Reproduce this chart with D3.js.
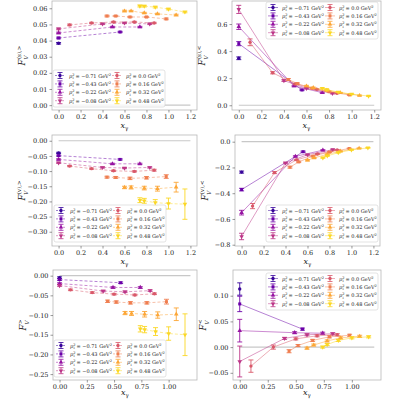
<!DOCTYPE html>
<html>
<head>
<meta charset="utf-8">
<script src="https://cdn.jsdelivr.net/npm/d3@7"></script>
<style>
  body { margin: 0; background: #fff; }
  text { font-family: "DejaVu Serif", "Liberation Serif", serif; }
</style>
</head>
<body>
<div id="chart"></div>
<script>
// series labels (p_t^2 in GeV^2) and x_gamma positions of each series
const ptLabels = ["\u22120.71", "\u22120.43", "\u22120.22", "\u22120.08", "0.0", "0.16", "0.32", "0.48"]
const xGamma = [
  [0],
  [0, 0.56],
  [0, 0.49, 0.74],
  [0, 0.4, 0.6, 0.83],
  [0.1, 0.3, 0.5, 0.69, 0.87],
  [0.44, 0.52, 0.65, 0.8, 0.98],
  [0.6, 0.66, 0.78, 0.9, 1.07],
  [0.74, 0.78, 0.88, 1.0, 1.15]
]

// top-left F^(s),>
const fsGt = [
  [0.0383], [0.0416, 0.0453], [0.0447, 0.0484, 0.0484],
  [0.0472, 0.0503, 0.0509, 0.0503], [0.0497, 0.0509, 0.0515, 0.0515, 0.0509],
  [0.0552, 0.0552, 0.0546, 0.0546, 0.0534], [0.0583, 0.0583, 0.0571, 0.0565, 0.0558],
  [0.0614, 0.0613, 0.0607, 0.0595, 0.0577]
]
const fsGtErr = [
  [0.0005], [0.0005, 0.0004], [0.0005, 0.0004, 0.0004],
  [0.0005, 0.0004, 0.0004, 0.0004], [0.0005, 0.0004, 0.0004, 0.0004, 0.0004],
  [0.0005, 0.0004, 0.0004, 0.0004, 0.0005], [0.0005, 0.0004, 0.0004, 0.0004, 0.0005],
  [0.0006, 0.0005, 0.0005, 0.0005, 0.0005]
]
// top-right F^(s),<
const fsLt = [
  [0.347], [0.455, 0.113], [0.58, 0.142, 0.093],
  [0.708, 0.182, 0.125, 0.088], [0.465, 0.24, 0.157, 0.118, 0.088],
  [0.19, 0.16, 0.125, 0.1, 0.076], [0.142, 0.13, 0.11, 0.092, 0.072],
  [0.125, 0.115, 0.098, 0.082, 0.068]
]
const fsLtErr = [
  [0.01], [0.015, 0.005], [0.02, 0.005, 0.004],
  [0.03, 0.006, 0.004, 0.004], [0.025, 0.008, 0.005, 0.004, 0.003],
  [0.007, 0.005, 0.004, 0.004, 0.003], [0.005, 0.004, 0.004, 0.003, 0.003],
  [0.004, 0.004, 0.003, 0.003, 0.003]
]
// middle-left F^(v),>
const fvGt = [
  [-0.040], [-0.049, -0.0615], [-0.0615, -0.076, -0.076],
  [-0.0725, -0.088, -0.090, -0.088], [-0.0835, -0.092, -0.099, -0.101, -0.097],
  [-0.120, -0.121, -0.124, -0.122, -0.118], [-0.154, -0.154, -0.156, -0.158, -0.153],
  [-0.196, -0.198, -0.204, -0.207, -0.209]
]
const fvGtErr = [
  [0.002], [0.002, 0.002], [0.002, 0.002, 0.002],
  [0.002, 0.002, 0.002, 0.002], [0.002, 0.002, 0.002, 0.002, 0.003],
  [0.003, 0.003, 0.004, 0.004, 0.006], [0.004, 0.005, 0.006, 0.008, 0.016],
  [0.008, 0.008, 0.01, 0.018, 0.05]
]
// middle-right F^(v),<
const fvLt = [
  [-0.236], [-0.372, -0.078], [-0.551, -0.114, -0.066],
  [-0.736, -0.165, -0.101, -0.062], [-0.5, -0.24, -0.141, -0.096, -0.064],
  [-0.198, -0.157, -0.112, -0.08, -0.053], [-0.144, -0.126, -0.098, -0.074, -0.051],
  [-0.125, -0.11, -0.085, -0.064, -0.048]
]
const fvLtErr = [
  [0.008], [0.01, 0.005], [0.018, 0.005, 0.004],
  [0.025, 0.006, 0.004, 0.004], [0.02, 0.008, 0.005, 0.004, 0.003],
  [0.007, 0.005, 0.004, 0.004, 0.003], [0.005, 0.004, 0.004, 0.003, 0.003],
  [0.004, 0.004, 0.003, 0.003, 0.003]
]
// bottom-left F_V^>
const fVGt = [
  [-0.005], [-0.010, -0.018], [-0.020, -0.030, -0.030],
  [-0.025, -0.039, -0.041, -0.038], [-0.036, -0.043, -0.047, -0.049, -0.046],
  [-0.065, -0.067, -0.069, -0.069, -0.066], [-0.095, -0.096, -0.098, -0.100, -0.098],
  [-0.135, -0.137, -0.142, -0.147, -0.150]
]
const fVGtErr = [
  [0.002], [0.002, 0.002], [0.002, 0.002, 0.002],
  [0.002, 0.002, 0.002, 0.002], [0.002, 0.002, 0.002, 0.002, 0.002],
  [0.003, 0.003, 0.003, 0.003, 0.006], [0.004, 0.005, 0.007, 0.008, 0.016],
  [0.008, 0.008, 0.01, 0.017, 0.053]
]
// bottom-right F_V^<
const fVLt = [
  [0.113], [0.084, 0.035], [0.032, 0.028, 0.027],
  [-0.028, 0.017, 0.024, 0.026], [-0.037, 0.0, 0.016, 0.022, 0.024],
  [-0.008, 0.003, 0.013, 0.02, 0.023], [-0.002, 0.004, 0.012, 0.018, 0.021],
  [0.0, 0.005, 0.013, 0.018, 0.02]
]
const fVLtErr = [
  [0.012], [0.015, 0.002], [0.022, 0.002, 0.002],
  [0.03, 0.002, 0.002, 0.002], [0.012, 0.004, 0.002, 0.002, 0.002],
  [0.003, 0.002, 0.002, 0.002, 0.002], [0.002, 0.002, 0.002, 0.002, 0.002],
  [0.002, 0.002, 0.002, 0.002, 0.002]
]

const ticksA = [0, 0.2, 0.4, 0.6, 0.8, 1.0, 1.2]
const ticksB = [0, 0.25, 0.5, 0.75, 1.0]

const colors = ptLabels.map((d, i) => d3.interpolatePlasma(0.08 + i * 0.12))
const symbols = [d3.symbolCircle, d3.symbolSquare, d3.symbolTriangle, d3.symbolTriangle,
                 d3.symbolCircle, d3.symbolSquare, d3.symbolTriangle, d3.symbolTriangle]

const panels = [
  { x0: 52, x1: 197, y0: 1, y1: 110, ydom: [-0.003, 0.0645], yt: d3.range(0, 0.061, 0.01), yf: '.2f',
    xt: ticksA, xf: '.1f', v: fsGt, e: fsGtErr, dash: true, lab: '(s),>', leg: [53, 70] },
  { x0: 232, x1: 381, y0: 1, y1: 110, ydom: [-0.035, 0.77], yt: [0, 0.2, 0.4, 0.6], yf: '.1f',
    xt: ticksA, xf: '.1f', v: fsLt, e: fsLtErr, dash: false, lab: '(s),<', leg: [266, 2] },
  { x0: 52, x1: 197, y0: 135, y1: 246, ydom: [-0.347, 0.019], yt: [0, -0.05, -0.1, -0.15, -0.2, -0.25, -0.3], yf: '.2f',
    xt: ticksA, xf: '.1f', v: fvGt, e: fvGtErr, dash: true, lab: '(v),>', leg: [54, 205] },
  { x0: 235, x1: 380, y0: 135, y1: 246, ydom: [-0.81, 0.052], yt: [0, -0.2, -0.4, -0.6, -0.8], yf: '.1f',
    xt: ticksA, xf: '.1f', v: fvLt, e: fvLtErr, dash: false, lab: '(v),<', leg: [266, 205] },
  { x0: 53, x1: 197, y0: 270, y1: 380, ydom: [-0.265, 0.0144], yt: [0, -0.05, -0.1, -0.15, -0.2, -0.25], yf: '.2f',
    xt: ticksB, xf: '.2f', v: fVGt, e: fVGtErr, dash: true, lab: '>', leg: [54, 340] },
  { x0: 233, x1: 381, y0: 270, y1: 380, ydom: [-0.064, 0.15], yt: [-0.05, 0, 0.05, 0.1], yf: '.2f',
    xt: ticksB, xf: '.2f', v: fVLt, e: fVLtErr, dash: false, lab: '<', leg: [266, 273] }
]

const svg = d3.select('#chart').append('svg')
  .attr('width', 400)
  .attr('height', 400)

function fmt(f) {
  return d => d3.format(f)(d).replace('-', '\u2212')
}

panels.forEach(p => {
  const g = svg.append('g')
  const x = d3.scaleLinear().domain([-0.06, 1.26]).range([p.x0, p.x1])
  const y = d3.scaleLinear().domain(p.ydom).range([p.y1, p.y0])

  // zero reference line
  g.append('line')
    .attr('x1', x(0)).attr('x2', x(1.2))
    .attr('y1', y(0)).attr('y2', y(0))
    .attr('stroke', '#c8c8c8').attr('stroke-width', 1.2)

  const line = d3.line().x(d => x(d[0])).y(d => y(d[1]))
  p.v.forEach((vals, i) => {
    const pts = vals.map((v, j) => [xGamma[i][j], v, p.e[i][j]])
    g.append('path')
      .attr('d', line(pts))
      .attr('fill', 'none')
      .attr('stroke', colors[i])
      .attr('stroke-opacity', 0.55)
      .attr('stroke-width', 0.9)
      .attr('stroke-dasharray', p.dash ? '3,2' : null)
    pts.forEach(d => {
      const cx = x(d[0]), top = y(d[1] + d[2]), bot = y(d[1] - d[2])
      g.append('line').attr('x1', cx).attr('x2', cx).attr('y1', top).attr('y2', bot)
        .attr('stroke', colors[i]).attr('stroke-width', 0.9)
      ;[top, bot].forEach(yy => {
        g.append('line').attr('x1', cx - 2.5).attr('x2', cx + 2.5).attr('y1', yy).attr('y2', yy)
          .attr('stroke', colors[i]).attr('stroke-width', 0.9)
      })
      g.append('path')
        .attr('d', d3.symbol().type(symbols[i]).size(9)())
        .attr('transform', `translate(${cx},${y(d[1])})` + (i % 4 === 3 ? ' rotate(180)' : ''))
        .attr('fill', colors[i])
    })
  })

  // frame
  g.append('rect')
    .attr('x', p.x0).attr('y', p.y0)
    .attr('width', p.x1 - p.x0).attr('height', p.y1 - p.y0)
    .attr('fill', 'none').attr('stroke', '#b8b8b8').attr('stroke-width', 0.8)

  const xa = g.append('g').attr('transform', `translate(0,${p.y1})`)
    .call(d3.axisBottom(x).tickValues(p.xt).tickSize(2.5).tickPadding(1.5).tickFormat(fmt(p.xf)))
  const ya = g.append('g').attr('transform', `translate(${p.x0},0)`)
    .call(d3.axisLeft(y).tickValues(p.yt).tickSize(2.5).tickPadding(2).tickFormat(fmt(p.yf)))
  ;[xa, ya].forEach(a => {
    a.select('.domain').remove()
    a.selectAll('line').attr('stroke', '#555').attr('stroke-width', 0.6)
    a.selectAll('text').attr('font-size', 6.5).attr('fill', '#222')
      .style('font-family', '"DejaVu Serif", serif')
  })

  // x label
  const xl = g.append('text')
    .attr('x', (p.x0 + p.x1) / 2).attr('y', Math.min(p.y1 + 18, 395))
    .attr('text-anchor', 'middle').attr('font-size', 8).attr('fill', '#222')
  xl.append('tspan').attr('font-style', 'italic').text('x')
  xl.append('tspan').attr('font-size', 5.5).attr('dy', 1.5).text('\u03b3')

  // y label: F with subscript V and superscript
  const lx = p.x0 - 27, ly = (p.y0 + p.y1) / 2
  const yl = g.append('text')
    .attr('transform', `translate(${lx},${ly}) rotate(-90)`)
    .attr('text-anchor', 'middle').attr('font-size', 8.5).attr('fill', '#222')
  yl.append('tspan').attr('font-style', 'italic').text('F')
  yl.append('tspan').attr('font-size', 5.5).attr('font-style', 'italic').attr('dy', 2.5).text('V')
  yl.append('tspan').attr('font-size', 5.5).attr('dx', -3.5).attr('dy', -6.5).text(p.lab)

  // legend
  const lg = g.append('g').attr('transform', `translate(${p.leg[0]},${p.leg[1]})`)
  lg.append('rect').attr('width', 112).attr('height', 37).attr('rx', 2)
    .attr('fill', '#fff').attr('fill-opacity', 0.8)
    .attr('stroke', '#d0d0d0').attr('stroke-width', 0.6)
  ptLabels.forEach((lab, i) => {
    const col = Math.floor(i / 4), row = i % 4
    const hx = 7 + col * 57, hy = 5.5 + row * 8.4
    lg.append('line').attr('x1', hx - 5).attr('x2', hx + 5).attr('y1', hy).attr('y2', hy)
      .attr('stroke', colors[i]).attr('stroke-opacity', 0.55).attr('stroke-width', 0.9)
      .attr('stroke-dasharray', p.dash ? '2,1.5' : null)
    lg.append('line').attr('x1', hx).attr('x2', hx).attr('y1', hy - 3).attr('y2', hy + 3)
      .attr('stroke', colors[i]).attr('stroke-width', 0.8)
    ;[hy - 3, hy + 3].forEach(yy => {
      lg.append('line').attr('x1', hx - 2.5).attr('x2', hx + 2.5).attr('y1', yy).attr('y2', yy)
        .attr('stroke', colors[i]).attr('stroke-width', 0.8)
    })
    lg.append('path')
      .attr('d', d3.symbol().type(symbols[i]).size(9)())
      .attr('transform', `translate(${hx},${hy})` + (i % 4 === 3 ? ' rotate(180)' : ''))
      .attr('fill', colors[i])
    const t = lg.append('text').attr('x', hx + 9).attr('y', hy + 2)
      .attr('font-size', 5).attr('fill', '#222')
    t.append('tspan').attr('font-style', 'italic').text('p')
    t.append('tspan').attr('font-size', 3.5).attr('dy', -2).text('2')
    t.append('tspan').attr('font-size', 3.5).attr('font-style', 'italic').attr('dx', -2).attr('dy', 3.5).text('t')
    t.append('tspan').attr('dy', -1.5).text(` = ${lab} GeV`)
    t.append('tspan').attr('font-size', 3.5).attr('dy', -2).text('2')
  })
})
</script>
</body>
</html>
